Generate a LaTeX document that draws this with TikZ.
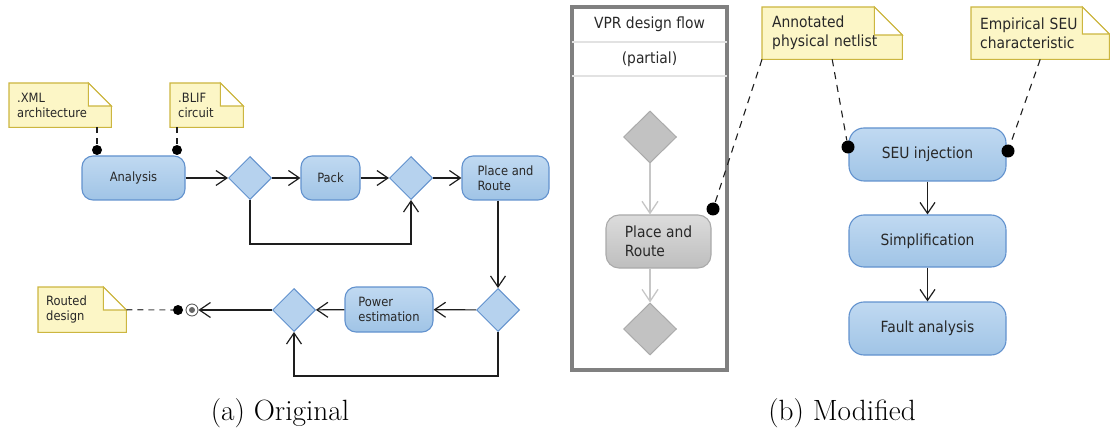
\documentclass[tikz,border=0pt]{standalone}
\usepackage{fontspec}
\newfontfamily\umlfont{DejaVu Sans Condensed}
\usetikzlibrary{shapes.geometric,arrows.meta,backgrounds}

\definecolor{boxtop}{RGB}{192,217,241}
\definecolor{boxbot}{RGB}{160,196,230}
\definecolor{boxedge}{RGB}{98,146,206}
\definecolor{decfill}{RGB}{182,210,238}
\definecolor{notefill}{RGB}{252,246,198}
\definecolor{noteedge}{RGB}{204,182,64}
\definecolor{txt}{RGB}{40,40,40}
\definecolor{graytop}{RGB}{220,220,220}
\definecolor{graybot}{RGB}{190,190,190}
\definecolor{grayedge}{RGB}{170,170,170}
\definecolor{grayfill}{RGB}{194,194,194}
\definecolor{grayline}{RGB}{198,198,198}
\definecolor{framegray}{RGB}{128,128,128}
\definecolor{sepgray}{RGB}{226,226,226}
\definecolor{wire}{RGB}{30,30,30}

\tikzset{
  smallfont/.style={font=\umlfont\fontsize{12.8}{14.8}\selectfont},
  largefont/.style={font=\umlfont\fontsize{15.4}{19}\selectfont},
  action/.style={rectangle, rounded corners=11pt, draw=boxedge, line width=1.1pt,
    top color=boxtop, bottom color=boxbot, text=txt, inner sep=0pt, align=left},
  grayaction/.style={action, draw=grayedge, top color=graytop, bottom color=graybot},
  decision/.style={diamond, draw=boxedge, fill=decfill, line width=1pt, inner sep=0pt,
    minimum width=43pt, minimum height=43pt},
  graydecision/.style={decision, draw=grayedge, fill=grayfill},
  note/.style={anchor=north west, text=txt, inner ysep=0pt, align=left},
  notepaper/.style={fill=notefill, draw=noteedge, line width=1.1pt, line join=miter},
  flow/.style={draw=wire, line width=1.2pt,
    -{Straight Barb[length=11pt,width=15pt]}},
  grayflow/.style={draw=grayline, line width=1.3pt,
    -{Straight Barb[length=12pt,width=16pt]}},
  dashline/.style={draw=wire, line width=1.1pt, dash pattern=on 6pt off 5pt},
  dot/.style={circle, fill=black, minimum size=10pt, inner sep=0pt},
  bigdot/.style={dot, minimum size=13pt},
  finalnode/.style={circle, draw=wire!80, line width=0.8pt, fill=white,
    minimum size=12pt, inner sep=0pt,
    path picture={\fill[black!60] (path picture bounding box.center) circle (3pt);}},
  caption/.style={anchor=base, font=\fontsize{29.3}{33}\selectfont},
}

\begin{document}
\begin{tikzpicture}[x=1pt,y=-1pt]
\useasboundingbox (0,0) rectangle (1110,430);

% ---------- (a) original flow ----------
\node[note, smallfont, text width=86pt, inner xsep=8pt, minimum height=44pt] (xml) at (9,83) {.XML\\architecture};
\node[note, smallfont, text width=57pt, inner xsep=8pt, minimum height=44pt] (blif) at (170,83) {.BLIF\\circuit};
\node[note, smallfont, text width=72pt, inner xsep=8pt, minimum height=45pt] (routed) at (38,287) {Routed\\design};

\node[action, smallfont, minimum width=103pt, minimum height=44pt] (analysis) at (133.5,178) {Analysis};
\node[decision] (d1) at (250,178) {};
\node[action, smallfont, minimum width=59pt, minimum height=44pt] (pack) at (330.5,178) {Pack};
\node[decision] (d2) at (411,178) {};
\node[action, smallfont, minimum width=87pt, minimum height=44pt] (pr) at (505.5,178) {Place and\\Route};
\node[decision] (d3) at (498,310) {};
\node[action, smallfont, minimum width=88pt, minimum height=45pt] (power) at (389,309.5) {Power\\estimation};
\node[decision] (d4) at (294,310) {};
\node[finalnode] (end) at (192,310) {};

\node[dot] (dA) at (97,150) {};
\node[dot] (dB) at (177,150) {};
\node[dot] (dC) at (178,310) {};

\coordinate (loopA) at (0,244);
\coordinate (loopB) at (0,376);

\draw[dashline] (dA |- xml.south) -- (dA);
\draw[dashline] (dB |- blif.south) -- (dB);
\draw[dashline, draw=black!70] (routed.east) -- (dC);

\draw[flow] (analysis) -- (d1);
\draw[flow] (d1) -- (pack);
\draw[flow] (pack) -- (d2);
\draw[flow] (d2) -- (pr);
\draw[flow] (d1.south) -- (d1.south |- loopA) -| (d2.south);
\draw[flow] (d3.north |- pr.south) -- (d3.north);
\draw[flow] (d3) -- (power);
\draw[flow] (power) -- (d4);
\draw[flow] (d3.south) -- (d3.south |- loopB) -| (d4.south);
\draw[flow] (d4) -- (end);

\node[caption] (capA) at (280,420) {(a)~Original};

% ---------- (b) modified flow ----------
\node[draw=framegray, line width=4pt, minimum width=155pt, minimum height=363pt, inner sep=0pt] (vpr) at (649.5,188.5) {};
\coordinate (sepA) at (0,42);
\coordinate (sepB) at (0,76);
\draw[sepgray, line width=1.5pt, shorten <=2pt, shorten >=2pt] (vpr.west |- sepA) -- (vpr.east |- sepA);
\draw[sepgray, line width=1.5pt, shorten <=2pt, shorten >=2pt] (vpr.west |- sepB) -- (vpr.east |- sepB);
\node[largefont, text=txt] (vprtitle) at (649.5,24.5) {VPR design flow};
\node[largefont, text=txt] (vprsub) at (649.5,59) {(partial)};

\node[graydecision, minimum width=53pt, minimum height=52pt] (gdA) at (650,137) {};
\node[grayaction, largefont, rounded corners=13pt, minimum width=105pt, minimum height=53pt] (gpr) at (658.5,241.5) {Place and\\Route};
\node[graydecision, minimum width=53pt, minimum height=52pt] (gdB) at (650,329) {};
\draw[grayflow] (gdA.south) -- (gdA.south |- gpr.north);
\draw[grayflow] (gdB.north |- gpr.south) -- (gdB.north);

\node[note, largefont, text width=120pt, inner xsep=10pt, minimum height=52pt] (annot) at (762,7) {Annotated\\physical netlist};
\node[note, largefont, text width=120pt, inner xsep=9pt, minimum height=52pt] (empir) at (971,7) {Empirical SEU\\characteristic};

\node[action, largefont, rounded corners=15pt, minimum width=157pt, minimum height=53pt] (seu) at (927.5,154.5) {SEU injection};
\node[action, largefont, rounded corners=15pt, minimum width=157pt, minimum height=52pt] (simp) at (927.5,241) {Simplification};
\node[action, largefont, rounded corners=15pt, minimum width=157pt, minimum height=53pt] (fault) at (927.5,328.5) {Fault analysis};

\node[bigdot] (dD) at (713,209) {};
\node[bigdot] (dE) at (848,147) {};
\node[bigdot] (dF) at (1008,151) {};

\draw[dashline, dash pattern=on 7pt off 6pt] (annot.south west) -- (dD);
\draw[dashline, dash pattern=on 7pt off 6pt] (annot.south) -- (dE);
\draw[dashline, dash pattern=on 7pt off 6pt] (empir.south) -- (dF);

\draw[flow] (seu) -- (simp);
\draw[flow] (simp) -- (fault);

\node[caption] (capB) at (842,420) {(b)~Modified};

% ---------- note papers with folded corners ----------
\begin{scope}[on background layer]
\foreach \n/\f in {xml/23, blif/23, routed/23, annot/28, empir/27}{
  \path[notepaper] (\n.north west) -- ([xshift=-\f pt]\n.north east)
    -- ([yshift=-\f pt]\n.north east) -- (\n.south east) -- (\n.south west) -- cycle;
  \path[notepaper, fill=white] ([xshift=-\f pt]\n.north east)
    -- ([xshift=-\f pt, yshift=-\f pt]\n.north east) -- ([yshift=-\f pt]\n.north east) -- cycle;
}
\end{scope}
\end{tikzpicture}
\end{document}
